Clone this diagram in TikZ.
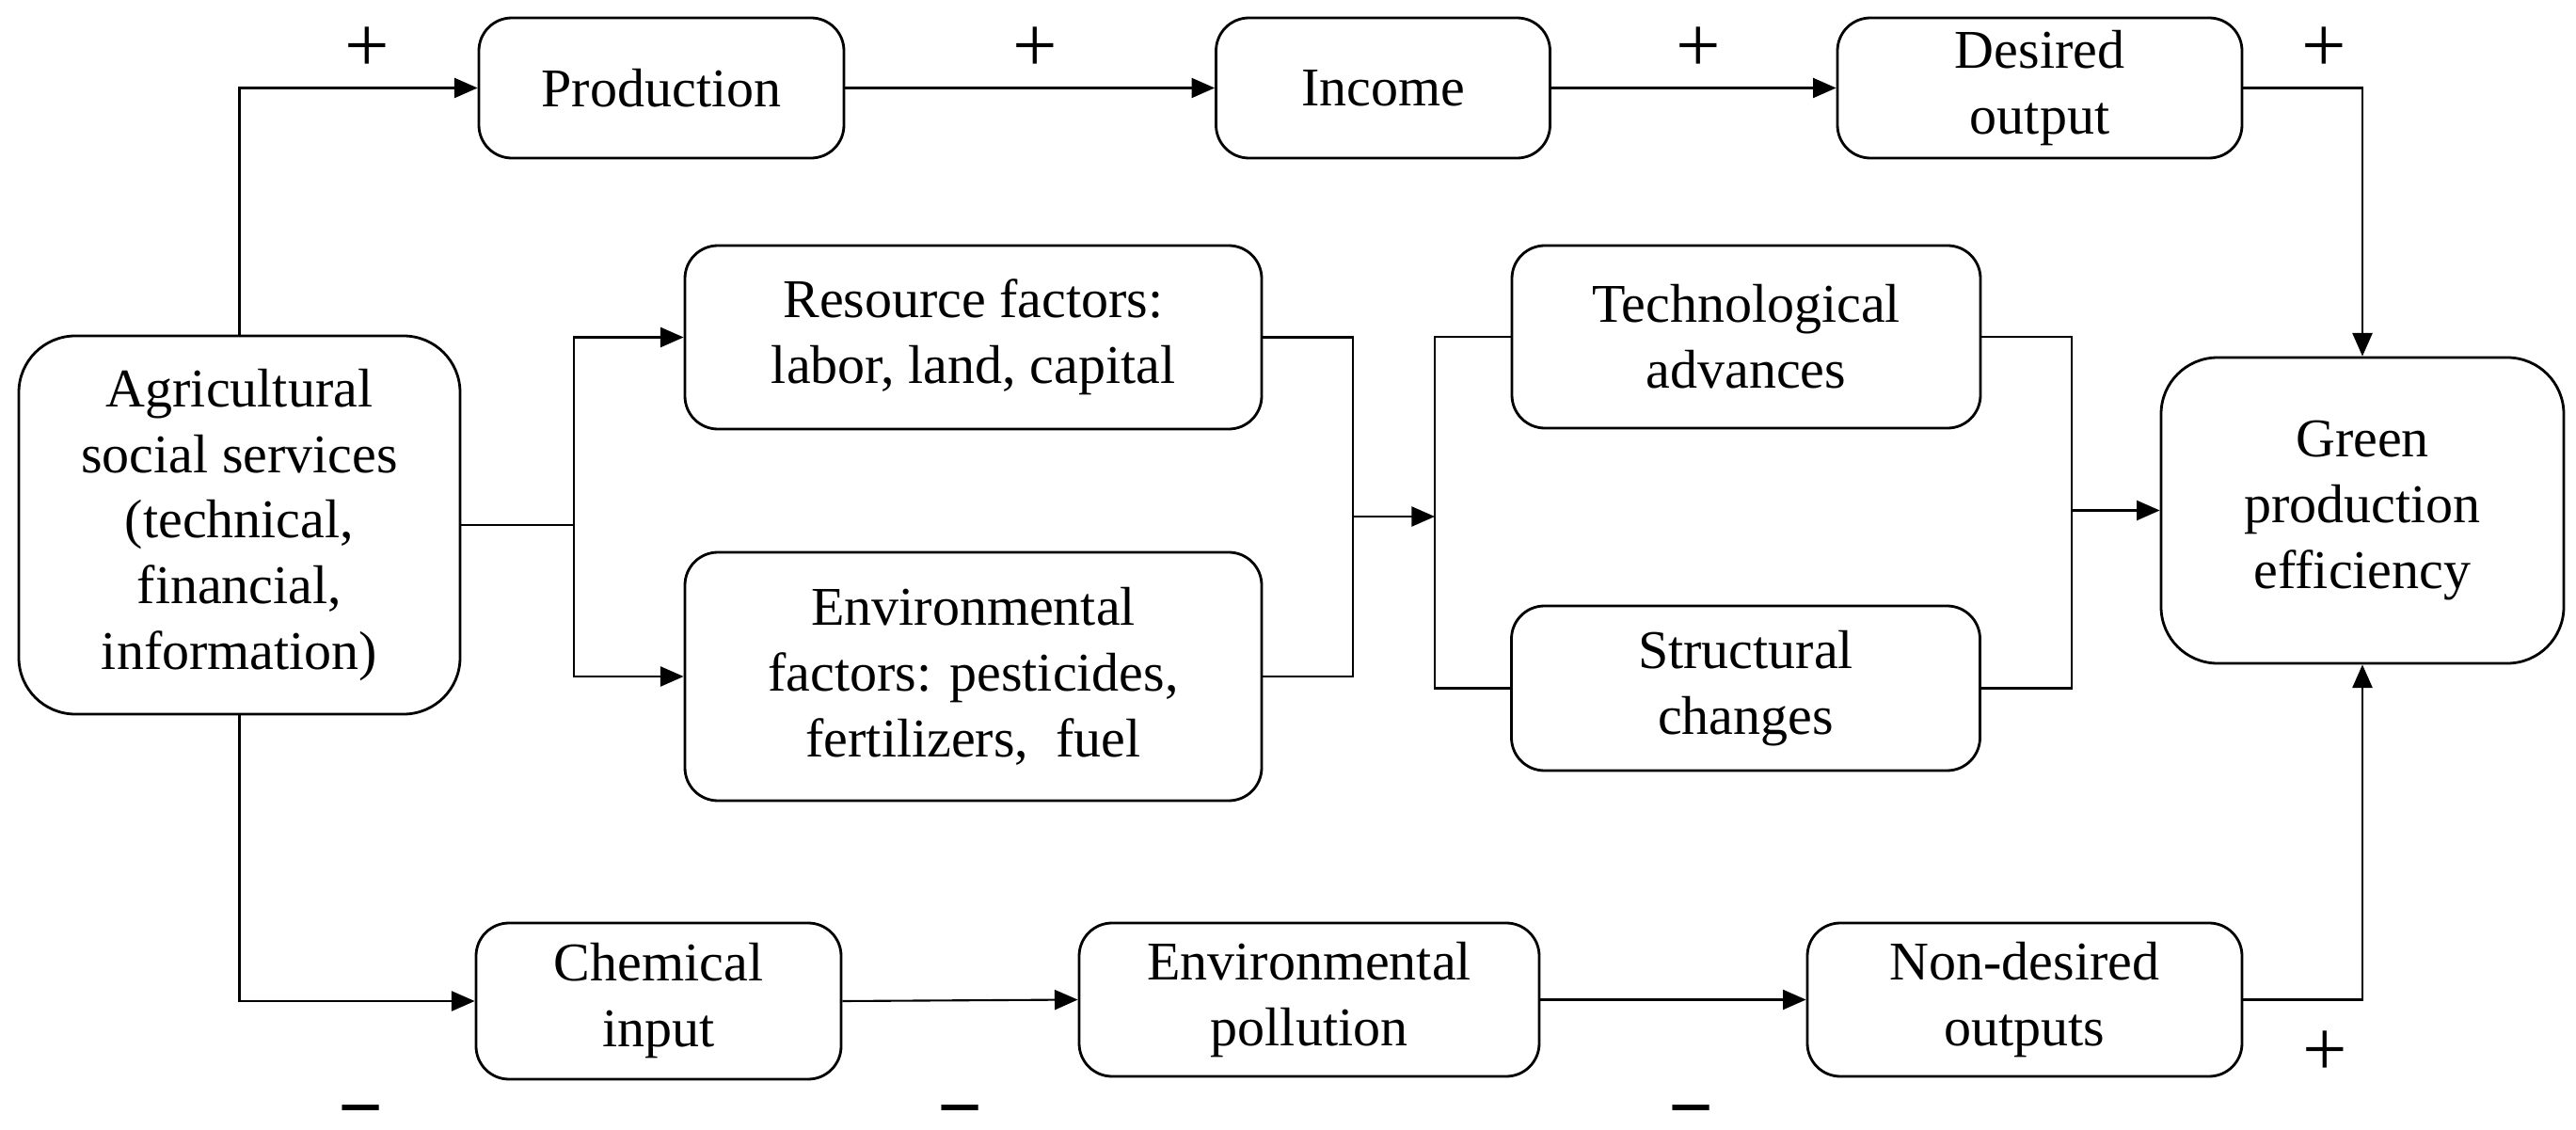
\documentclass[tikz,border=0pt]{standalone}
\usepackage{fontspec}
\setmainfont{Liberation Serif}
\usetikzlibrary{calc}
\usetikzlibrary{arrows.meta}

\begin{document}
\begin{tikzpicture}[font=\fontsize{16.5}{19.9}\selectfont,
    box/.style={draw, line width=0.8pt, rounded corners=0.35cm, align=center, inner sep=0pt},
    bigbox/.style={box, rounded corners=0.6cm},
    arr/.style={line width=0.6pt, -{Triangle[length=7pt,width=6pt]}},
    link/.style={line width=0.6pt},
    sign/.style={font=\fontsize{24}{24}\selectfont, inner sep=0pt}]
    \useasboundingbox (0,0) rectangle (27.38,-12.01);

    % boxes
    \node[bigbox, minimum width=4.69cm, minimum height=4.02cm] (agri) at (2.545,-5.58) {Agricultural\\social services\\(technical,\\financial,\\information)};
    \node[box, minimum width=3.88cm, minimum height=1.49cm] (prod) at (7.03,-0.935) {Production};
    \node[box, minimum width=3.55cm, minimum height=1.49cm] (income) at (14.70,-0.935) {Income};
    \node[box, minimum width=4.30cm, minimum height=1.49cm] (desired) at (21.68,-0.935) {Desired\\output};
    \node[box, minimum width=6.13cm, minimum height=1.95cm] (resource) at (10.345,-3.585) {Resource factors:\\labor, land, capital};
    \node[box, minimum width=6.13cm, minimum height=2.64cm] (envfac) at (10.345,-7.19) {Environmental\\factors: pesticides,\\fertilizers,~ fuel};
    \node[box, minimum width=4.98cm, minimum height=1.94cm] (tech) at (18.56,-3.58) {Technological\\advances};
    \node[box, minimum width=4.98cm, minimum height=1.75cm] (struct) at (18.555,-7.315) {Structural\\changes};
    \node[bigbox, minimum width=4.28cm, minimum height=3.25cm] (green) at (25.11,-5.425) {Green\\production\\efficiency};
    \node[box, minimum width=3.88cm, minimum height=1.66cm] (chem) at (7.00,-10.64) {Chemical\\input};
    \node[box, minimum width=4.89cm, minimum height=1.63cm] (pollution) at (13.915,-10.625) {Environmental\\pollution};
    \node[box, minimum width=4.62cm, minimum height=1.63cm] (nondes) at (21.52,-10.625) {Non-desired\\outputs};

    % top path
    \draw[arr] (agri.north) |- (prod.west);
    \draw[arr] (prod.east) -- (income.west);
    \draw[arr] (income.east) -- (desired.west);
    \draw[arr] (desired.east) -| (green.north);

    % middle path
    \coordinate (split) at (6.10,-5.58);
    \coordinate (join) at (14.38,-5.49);
    \coordinate (bus) at (15.25,-5.49);
    \coordinate (join2) at (22.02,-5.425);
    \draw[link] (agri.east) -- (split);
    \draw[arr] (split) |- (resource.west);
    \draw[arr] (split) |- (envfac.west);
    \draw[link] (resource.east) -| (join) |- (envfac.east);
    \draw[arr] (join) -- (bus);
    \draw[link] (tech.west) -| (bus) |- (struct.west);
    \draw[link] (tech.east) -| (join2) |- (struct.east);
    \draw[arr] (join2) -- (green.west);

    % bottom path
    \draw[arr] (agri.south) |- (chem.west);
    \draw[arr] (chem.east) -- (pollution.west);
    \draw[arr] (pollution.east) -- (nondes.west);
    \draw[arr] (nondes.east) -| (green.south);

    % signs
    \node[sign] (s1) at (3.90,-0.53) {+};
    \node[sign] (s2) at (11.00,-0.53) {+};
    \node[sign] (s3) at (18.05,-0.53) {+};
    \node[sign] (s4) at (24.70,-0.53) {+};
    \node[sign] (s5) at (24.71,-11.20) {+};
    \node[sign] (m1) at (3.84,-11.90) {\textbf{−}};
    \node[sign] (m2) at (10.21,-11.90) {\textbf{−}};
    \node[sign] (m3) at (17.98,-11.90) {\textbf{−}};
\end{tikzpicture}
\end{document}
